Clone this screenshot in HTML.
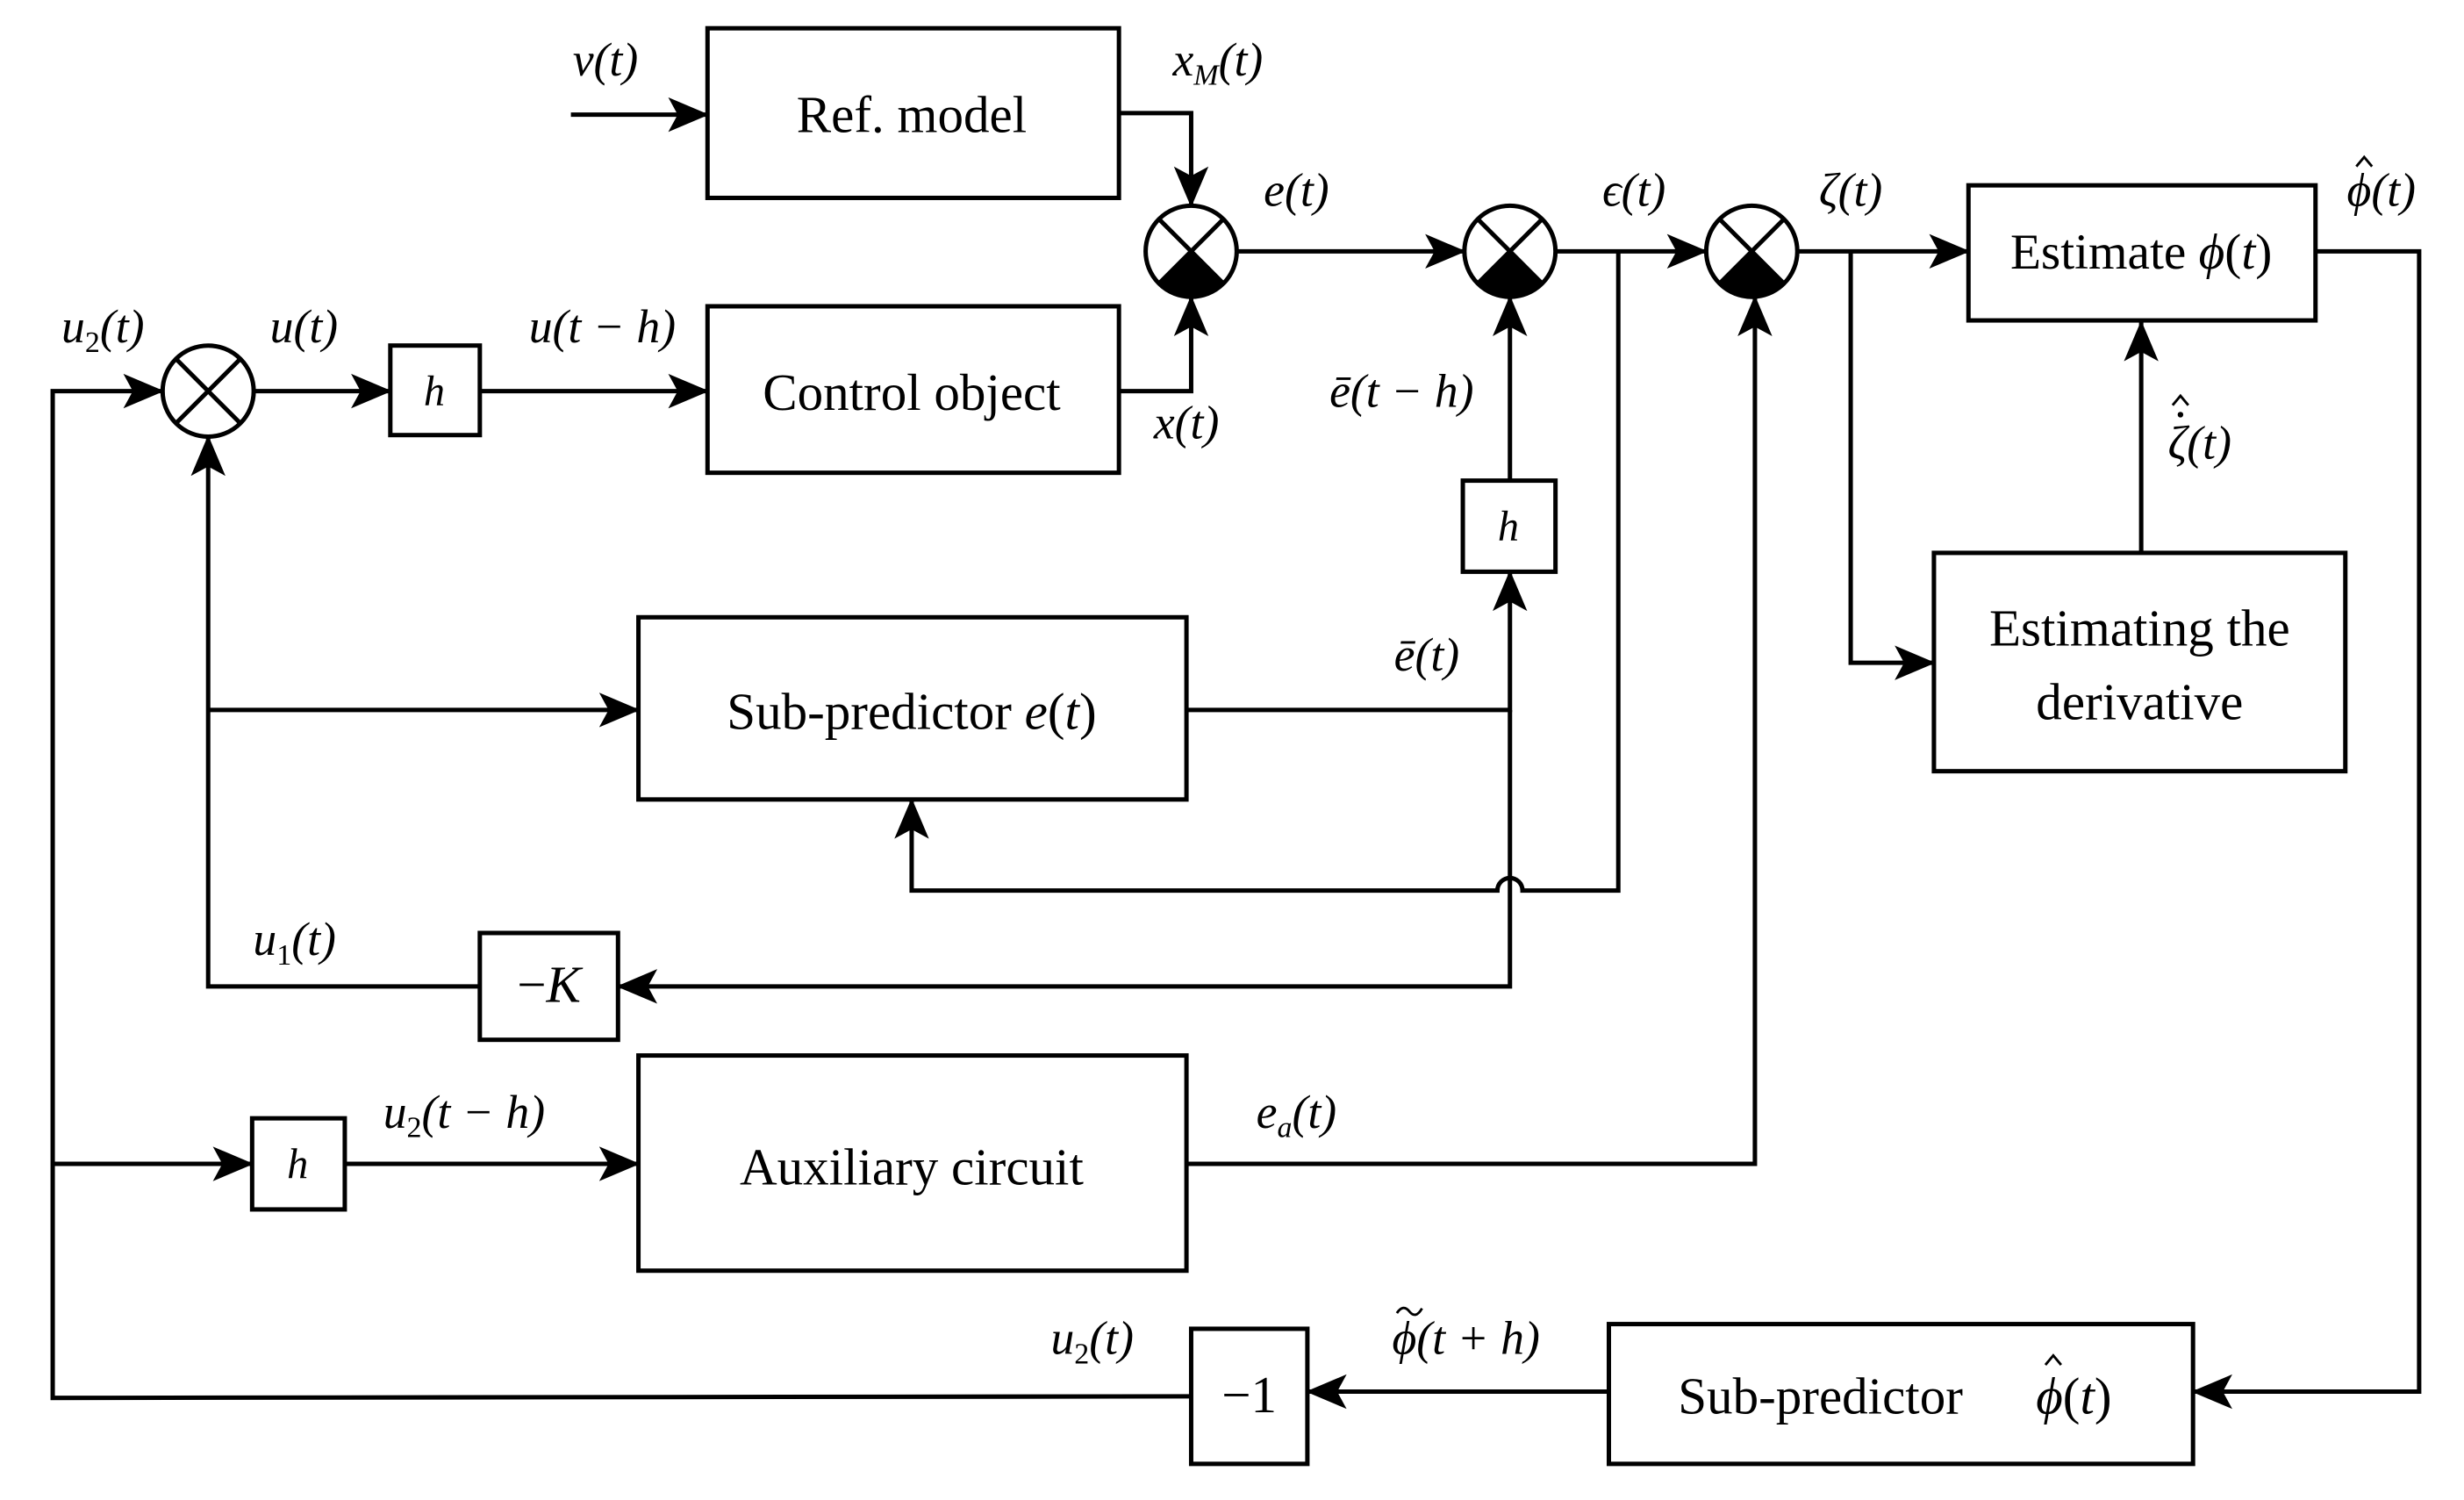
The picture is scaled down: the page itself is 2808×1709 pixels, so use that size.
<!DOCTYPE html>
<html><head><meta charset="utf-8"><style>
html,body{margin:0;padding:0;background:#fff;}
svg{display:block;}
text{font-family:"Liberation Serif",serif;fill:#000;}
.b{font-size:33px;}
.l{font-size:30px;font-style:italic;}
</style></head><body>
<svg width="2808" height="1709" viewBox="0 0 1568 955" xmlns="http://www.w3.org/2000/svg">
<defs>
<marker id="a" markerUnits="userSpaceOnUse" markerWidth="26" markerHeight="24" viewBox="0 0 26 24" refX="25" refY="12" orient="auto">
<path d="M0,1 L26,12 L0,23 L6,12 Z" fill="#000"/>
</marker>
</defs>
<g fill="none" stroke="#000" stroke-width="2.8">
<rect x="450" y="18" width="262" height="108"/>
<rect x="450" y="195" width="262" height="106"/>
<rect x="248" y="220" width="57" height="57"/>
<rect x="931" y="306" width="59" height="58"/>
<rect x="406" y="393" width="349" height="116"/>
<rect x="305" y="594" width="88" height="68"/>
<rect x="406" y="672" width="349" height="137"/>
<rect x="160" y="712" width="59" height="58"/>
<rect x="758" y="846" width="74" height="86"/>
<rect x="1024" y="843" width="372" height="89"/>
<rect x="1253" y="118" width="221" height="86"/>
<rect x="1231" y="352" width="262" height="139"/>
<circle cx="132" cy="249" r="29"/>
<line x1="111.5" y1="228.5" x2="152.5" y2="269.5"/><line x1="152.5" y1="228.5" x2="111.5" y2="269.5"/>
<circle cx="758" cy="160" r="29"/>
<line x1="737.5" y1="139.5" x2="778.5" y2="180.5"/><line x1="778.5" y1="139.5" x2="737.5" y2="180.5"/>
<circle cx="961" cy="160" r="29"/>
<line x1="940.5" y1="139.5" x2="981.5" y2="180.5"/><line x1="981.5" y1="139.5" x2="940.5" y2="180.5"/>
<circle cx="1115" cy="160" r="29"/>
<line x1="1094.5" y1="139.5" x2="1135.5" y2="180.5"/><line x1="1135.5" y1="139.5" x2="1094.5" y2="180.5"/>
</g>
<g fill="#000">
<path d="M737.5,180.5 L758,160 L778.5,180.5 A29,29 0 0 1 737.5,180.5 Z"/>
<path d="M940.5,180.5 L961,160 L981.5,180.5 A29,29 0 0 1 940.5,180.5 Z"/>
<path d="M1094.5,180.5 L1115,160 L1135.5,180.5 A29,29 0 0 1 1094.5,180.5 Z"/>
</g>
<g fill="none" stroke="#000" stroke-width="2.8" marker-end="url(#a)">
<path d="M363,73 H450"/>
<path d="M712,72 H758 V131"/>
<path d="M712,249 H758 V189"/>
<path d="M787,160 H932"/>
<path d="M990,160 H1086"/>
<path d="M1144,160 H1253"/>
<path d="M1474,160 H1540 V886 H1396"/>
<path d="M1024,886 H832"/>
<path d="M758,889 L33,890 V249 H103"/>
<path d="M161,249 H248"/>
<path d="M305,249 H450"/>
<path d="M961,306 V189"/>
<path d="M755,452 H961 V364"/>
<path d="M961,452 V628 H393"/>
<path d="M305,628 H132 V278"/>
<path d="M132,452 H406"/>
<path d="M1030,160 V567 H969 A8,8 0 0 0 953,567 H580 V509"/>
<path d="M755,741 H1117 V189"/>
<path d="M33,741 H160"/>
<path d="M219,741 H406"/>
<path d="M1178,160 V422 H1231"/>
<path d="M1363,352 V205"/>
</g>
<g fill="none" stroke="#000" stroke-width="1.6">
<path d="M1500,106 L1505,100 L1510,106"/>
<path d="M1383,258 L1388,252 L1393,258"/>
<path d="M1302,869 L1307,863 L1312,869"/>
<path d="M889,836 Q893,830 897,835 T905,833"/>
</g>
<circle cx="1388" cy="264" r="1.8" fill="#000"/>
<text class="b" x="580" y="84" text-anchor="middle">Ref. model</text>
<text class="b" x="580" y="261" text-anchor="middle">Control object</text>
<text class="l" x="276" y="258" text-anchor="middle" style="font-size:27px">h</text>
<text class="l" x="960" y="344" text-anchor="middle" style="font-size:27px">h</text>
<text class="l" x="189" y="750" text-anchor="middle" style="font-size:27px">h</text>
<text class="b" x="580" y="464" text-anchor="middle">Sub-predictor  <tspan font-style="italic">e</tspan>(<tspan font-style="italic">t</tspan>)</text>
<text class="b" x="349" y="638" text-anchor="middle">−<tspan font-style="italic">K</tspan></text>
<text class="b" x="580" y="754" text-anchor="middle">Auxiliary circuit</text>
<text class="b" x="795" y="899" text-anchor="middle">−1</text>
<text class="b" x="1068" y="900">Sub-predictor</text>
<text class="b" x="1296" y="900"><tspan font-style="italic">ϕ</tspan>(<tspan font-style="italic">t</tspan>)</text>
<text class="b" x="1363" y="171" text-anchor="middle" style="font-size:32px">Estimate <tspan font-style="italic">ϕ</tspan>(<tspan font-style="italic">t</tspan>)</text>
<text class="b" x="1362" y="411" text-anchor="middle">Estimating the</text>
<text class="b" x="1362" y="458" text-anchor="middle">derivative</text>
<text class="l" x="385" y="48" text-anchor="middle">v(t)</text>
<text class="l" x="775" y="48" text-anchor="middle">x<tspan font-size="19" dy="6">M</tspan><tspan dy="-6">(t)</tspan></text>
<text class="l" x="825" y="131" text-anchor="middle">e(t)</text>
<text class="l" x="1040" y="131" text-anchor="middle">ϵ(t)</text>
<text class="l" x="1178" y="131" text-anchor="middle">ζ(t)</text>
<text class="l" x="1494" y="131">ϕ(t)</text>
<text class="l" x="65" y="218" text-anchor="middle">u<tspan font-size="19" dy="6" font-style="normal">2</tspan><tspan dy="-6">(t)</tspan></text>
<text class="l" x="193" y="218" text-anchor="middle">u(t)</text>
<text class="l" x="383" y="218" text-anchor="middle">u(t − h)</text>
<text class="l" x="755" y="279" text-anchor="middle">x(t)</text>
<text class="l" x="892" y="259" text-anchor="middle">ē(t − h)</text>
<text class="l" x="1380" y="292">ζ(t)</text>
<text class="l" x="908" y="427" text-anchor="middle">ē(t)</text>
<text class="l" x="187" y="608" text-anchor="middle">u<tspan font-size="19" dy="6" font-style="normal">1</tspan><tspan dy="-6">(t)</tspan></text>
<text class="l" x="295" y="718" text-anchor="middle">u<tspan font-size="19" dy="6" font-style="normal">2</tspan><tspan dy="-6">(t − h)</tspan></text>
<text class="l" x="825" y="718" text-anchor="middle">e<tspan font-size="19" dy="6">a</tspan><tspan dy="-6">(t)</tspan></text>
<text class="l" x="695" y="862" text-anchor="middle">u<tspan font-size="19" dy="6" font-style="normal">2</tspan><tspan dy="-6">(t)</tspan></text>
<text class="l" x="886" y="862">ϕ(t + h)</text>
</svg>
</body></html>
